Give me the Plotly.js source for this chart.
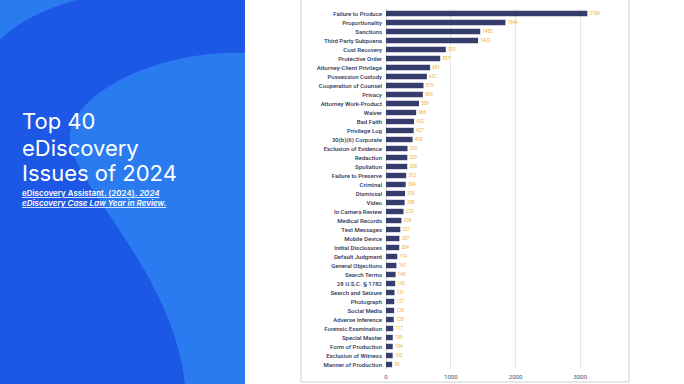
<!DOCTYPE html>
<html>
<head>
<meta charset="utf-8">
<script src="https://cdn.plot.ly/plotly-3.0.1.min.js"></script>
<style>
html,body{margin:0;padding:0;background:#fff;}
#chart{width:684px;height:384px;}
</style>
</head>
<body>
<div id="chart"></div>
<script>
const issues = [
  "Failure to Produce","Proportionality","Sanctions","Third Party Subpoena","Cost Recovery",
  "Protective Order","Attorney-Client Privilege","Possession Custody","Cooperation of Counsel","Privacy",
  "Attorney Work-Product","Waiver","Bad Faith","Privilege Log","30(b)(6) Corporate",
  "Exclusion of Evidence","Redaction","Spoliation","Failure to Preserve","Criminal",
  "Dismissal","Video","In Camera Review","Medical Records","Text Messages",
  "Mobile Device","Initial Disclosures","Default Judgment","General Objections","Search Terms",
  "28 U.S.C. § 1782","Search and Seizure","Photograph","Social Media","Adverse Inference",
  "Forensic Examination","Special Master","Form of Production","Exclusion of Witness","Manner of Production"
];
const counts = [
  3109,1844,1455,1422,923,
  837,681,631,579,569,
  509,466,432,427,410,
  332,329,328,312,304,
  293,288,270,238,221,
  207,204,174,161,148,
  142,131,127,126,120,
  111,105,104,103,95
];
const xTicks = [0,1000,2000,3000];

const titleLines = ["Top 40","eDiscovery","Issues of 2024"];
const sourceLines = ["<u>eDiscovery Assistant. (2024). <i>2024</i></u>","<u><i>eDiscovery Case Law Year in Review.</i></u>"];

// page geometry (pixels) -> paper coordinates
const W = 684, H = 384;
const M = {l:386, r:59, t:9, b:15};
const PW = W - M.l - M.r, PH = H - M.t - M.b;
const px = x => (x - M.l) / PW;
const py = y => (H - M.b - y) / PH;
function path(cmds){
  return cmds.map(c => {
    const pts = [];
    for (let i = 1; i < c.length; i += 2) pts.push(px(c[i]).toFixed(5) + ',' + py(c[i+1]).toFixed(5));
    return c[0] + ' ' + pts.join(' ');
  }).join(' ');
}
const dark = '#1c57e6', light = '#2a7bf0';
const shapes = [
  {type:'rect', xref:'paper', yref:'paper', x0:px(0), x1:px(245), y0:py(-2), y1:py(386), fillcolor:dark, line:{width:0}, layer:'below'},
  {type:'path', xref:'paper', yref:'paper', layer:'below', fillcolor:light, line:{width:0},
   path: path([['M',0,-1],['L',80,-1],['C',45,8,15,24,0,40]]) + ' Z'},
  {type:'path', xref:'paper', yref:'paper', layer:'below', fillcolor:light, line:{width:0},
   path: path([['M',245,53],['C',160,50,78,90,70,133],['C',62,176,175,270,185,386],['L',245,386]]) + ' Z'},
  {type:'rect', xref:'paper', yref:'paper', x0:px(301), x1:px(629), y0:py(382), y1:py(-3), fillcolor:'#ffffff', line:{color:'#cfcfcf', width:1}, layer:'below'}
];

const titleY = [121, 148, 173];
const annotations = [];
titleLines.forEach((t,i)=>annotations.push({
  xref:'paper', yref:'paper', x:px(20), y:py(titleY[i]), xanchor:'left', yanchor:'middle',
  text:t, showarrow:false, font:{family:'Inter, Open Sans, sans-serif', size:22, color:'#ffffff', weight:400}
}));
const srcY = [193, 203];
sourceLines.forEach((t,i)=>annotations.push({
  xref:'paper', yref:'paper', x:px(20), y:py(srcY[i]), xanchor:'left', yanchor:'middle',
  text:t, showarrow:false, font:{family:'Inter, Open Sans, sans-serif', size:8, color:'#ffffff', weight:600}
}));

const trace = {
  type:'bar', orientation:'h', y:issues, x:counts,
  marker:{color:'#363c6c'}, width:0.6,
  text:counts.map(String), texttemplate:'\u00a0\u00a0%{text}', textposition:'outside', cliponaxis:false,
  textfont:{family:'Roboto, sans-serif', size:5, color:'#f0ad2a'},
  hoverinfo:'none'
};

const layout = {
  width:W, height:H, margin:M,
  paper_bgcolor:'#ffffff', plot_bgcolor:'rgba(0,0,0,0)',
  showlegend:false, bargap:0.4,
  xaxis:{range:[0,3690], tickvals:xTicks, ticktext:xTicks.map(String), showgrid:true, gridcolor:'#e6e6e6', gridwidth:1,
         zeroline:true, zerolinecolor:'#d9d9d9', zerolinewidth:1, showline:false, ticks:'',
         ticklabelstandoff:3,
         tickfont:{family:'Roboto, sans-serif', size:6, color:'#4a4f6e'}, fixedrange:true},
  yaxis:{type:'category', autorange:'reversed', showgrid:false, zeroline:false, showline:false, ticks:'',
         ticklabelstandoff:3,
         tickfont:{family:'Roboto, sans-serif', size:6, color:'#2d3353', weight:500}, automargin:false, fixedrange:true},
  shapes:shapes, annotations:annotations
};
Plotly.newPlot('chart',[trace],layout,{displayModeBar:false, staticPlot:true});
</script>
</body>
</html>
